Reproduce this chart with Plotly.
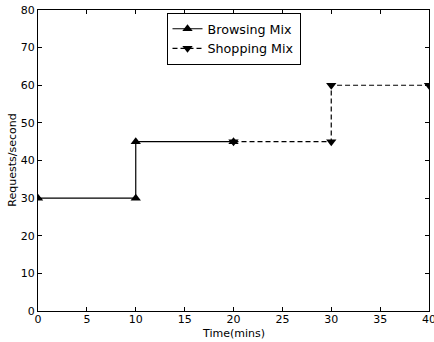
import plotly.graph_objects as go

browsing_x = [0, 10, 10, 20]
browsing_y = [30, 30, 45, 45]
shopping_x = [20, 30, 30, 40]
shopping_y = [45, 45, 60, 60]
x_ticks = [0, 5, 10, 15, 20, 25, 30, 35, 40]
y_ticks = [0, 10, 20, 30, 40, 50, 60, 70, 80]

fig = go.Figure()
fig.add_trace(go.Scatter(
    x=browsing_x, y=browsing_y, mode="lines+markers", name="Browsing Mix",
    line=dict(color="black", width=1.2),
    marker=dict(symbol="triangle-up", size=9, color="black"),
    cliponaxis=True,
))
fig.add_trace(go.Scatter(
    x=shopping_x, y=shopping_y, mode="lines+markers", name="Shopping Mix",
    line=dict(color="black", width=1.2, dash="5px,3px"),
    marker=dict(symbol="triangle-down", size=9, color="black"),
    cliponaxis=True,
))

axis_common = dict(
    showgrid=False, zeroline=False, showline=True, linecolor="black", linewidth=1.2,
    mirror="ticks", ticks="inside", ticklen=4, tickcolor="black", tickwidth=1,
    tickfont=dict(family="DejaVu Sans", size=11, color="black"),
    automargin=False, ticklabeloverflow="allow",
)
fig.update_xaxes(range=[0, 40], tickvals=x_ticks, ticktext=[str(v) for v in x_ticks],
                 ticklabelstandoff=-2, **axis_common)
fig.update_yaxes(range=[0, 80], tickvals=y_ticks, ticktext=[str(v) for v in y_ticks],
                 ticklabelstandoff=0, **axis_common)

fig.add_annotation(text="Time(mins)", x=0.5, xref="paper", y=-0.074, yref="paper",
                   yanchor="middle", showarrow=False,
                   font=dict(family="DejaVu Sans", size=11, color="black"))
fig.add_annotation(text="Requests/second", x=-0.066, xref="paper", y=0.5, yref="paper",
                   xanchor="center", yanchor="middle", textangle=-90, showarrow=False,
                   font=dict(family="DejaVu Sans", size=11, color="black"))

fig.update_layout(
    width=434, height=342,
    margin=dict(l=38, r=5, t=10, b=31, autoexpand=False),
    plot_bgcolor="white", paper_bgcolor="white",
    font=dict(family="DejaVu Sans", color="black"),
    legend=dict(x=0.5, y=0.99, xanchor="center", yanchor="top",
                bgcolor="white", bordercolor="black", borderwidth=1,
                font=dict(family="DejaVu Sans", size=12.7, color="black"),
                itemwidth=30, tracegroupgap=0),
    showlegend=True,
)

fig.write_html("out.html", config={"displayModeBar": False},
               post_script="document.body.style.margin='0';document.body.style.overflow='hidden';")
